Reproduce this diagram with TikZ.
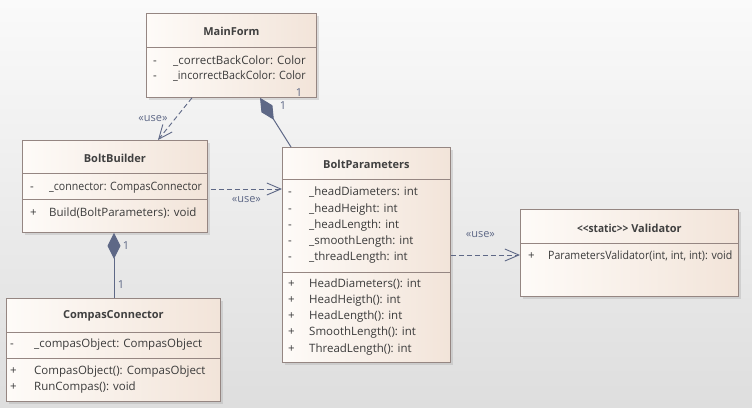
\documentclass[tikz,border=0pt]{standalone}
\usepackage{fontspec}
\setmainfont{Open Sans}
\usetikzlibrary{arrows.meta, positioning, shadows}
\definecolor{boxborder}{HTML}{958682}
\definecolor{boxleft}{HTML}{FEFBF8}
\definecolor{boxright}{HTML}{F2E4D9}
\definecolor{linkslate}{HTML}{5E6886}
\definecolor{textdark}{HTML}{3A3A3A}
\definecolor{bgtop}{HTML}{FAFAFA}
\definecolor{bgbottom}{HTML}{DEDEDE}

\begin{document}
\begin{tikzpicture}[
    x=1pt, y=-1pt,
    every node/.style={text=textdark, inner sep=0pt},
    classbox/.style 2 args={
        draw=boxborder, line width=0.8pt,
        left color=boxleft, right color=boxright,
        minimum width=#1, minimum height=#2,
        anchor=north west,
        drop shadow={shadow xshift=2.5pt, shadow yshift=-2.5pt, fill=black!35, opacity=0.35}
    },
    sepline/.style={draw=boxborder, line width=0.8pt},
    classname/.style={font=\bfseries\fontsize{11}{13}\selectfont, text=black!75},
    member/.style={font=\fontsize{11.5}{14}\selectfont, anchor=west, text height=8pt, text depth=2pt},
    usearr/.style={
        draw=linkslate, line width=0.9pt,
        dash pattern=on 5pt off 3pt,
        -{Straight Barb[length=14pt, width=12pt]}
    },
    comp/.style={
        draw=linkslate, line width=1pt,
        {Diamond[length=26pt, width=13pt, fill=linkslate]}-
    },
    lbl/.style={font=\fontsize{11}{13}\selectfont, text=linkslate}
]

% Background
\useasboundingbox (0,0) rectangle (752,407);
\fill[top color=bgtop, bottom color=bgbottom] (0,0) rectangle (752,407);

% Classes
\node[classbox={170pt}{84pt}] (mainform) at (146,13) {};
\node[classbox={185pt}{92pt}] (builder) at (22,140) {};
\node[classbox={168pt}{215pt}] (params) at (282,147) {};
\node[classbox={218pt}{87pt}] (validator) at (520,209) {};
\node[classbox={214pt}{103pt}] (compas) at (6,298) {};

% Compartments
\draw[sepline] (mainform.west |- 0,47) -- (mainform.east |- 0,47);
\draw[sepline] (builder.west |- 0,173) -- (builder.east |- 0,173);
\draw[sepline] (builder.west |- 0,199) -- (builder.east |- 0,199);
\draw[sepline] (params.west |- 0,179) -- (params.east |- 0,179);
\draw[sepline] (params.west |- 0,272) -- (params.east |- 0,272);
\draw[sepline] (validator.west |- 0,243) -- (validator.east |- 0,243);
\draw[sepline] (compas.west |- 0,332) -- (compas.east |- 0,332);
\draw[sepline] (compas.west |- 0,358) -- (compas.east |- 0,358);

% Class names
\node[classname] (mainformname) at (mainform.north |- 0,31) {MainForm};
\node[classname] (buildername) at (builder.north |- 0,158) {BoltBuilder};
\node[classname] (paramsname) at (params.north |- 0,164) {BoltParameters};
\node[classname] (validatorname) at (validator.north |- 0,228)
    {\scalebox{0.92}[1]{<\kern0pt<static>\kern0pt>} Validator};
\node[classname] (compasname) at (compas.north |- 0,316) {CompasConnector};

% MainForm members
\node[member] (mf1) at (153,61) {\makebox[20pt][l]{-}\_correctBackColor: Color};
\node[member] (mf2) at (153,76) {\makebox[20pt][l]{-}\scalebox{0.93}[1]{\_incorrectBackColor: Color}};

% BoltBuilder members
\node[member] (bb1) at (30,187) {\makebox[19pt][l]{-}\scalebox{0.92}[1]{\_connector: CompasConnector}};
\node[member] (bb2) at (30,213) {\makebox[19pt][l]{+}Build(BoltParameters): void};

% BoltParameters members
\node[member] (bp1) at (288,192) {\makebox[21pt][l]{-}\_headDiameters: int};
\node[member] (bp2) at (288,209) {\makebox[21pt][l]{-}\_headHeight: int};
\node[member] (bp3) at (288,225) {\makebox[21pt][l]{-}\_headLength: int};
\node[member] (bp4) at (288,241) {\makebox[21pt][l]{-}\_smoothLength: int};
\node[member] (bp5) at (288,257) {\makebox[21pt][l]{-}\_threadLength: int};
\node[member] (bp6) at (288,284) {\makebox[21pt][l]{+}HeadDiameters(): int};
\node[member] (bp7) at (288,300) {\makebox[21pt][l]{+}HeadHeigth(): int};
\node[member] (bp8) at (288,316) {\makebox[21pt][l]{+}HeadLength(): int};
\node[member] (bp9) at (288,332) {\makebox[21pt][l]{+}SmoothLength(): int};
\node[member] (bp10) at (288,349) {\makebox[21pt][l]{+}ThreadLength(): int};

% Validator members
\node[member] (va1) at (528,256)
    {\makebox[20pt][l]{+}\scalebox{0.92}[1]{ParametersValidator(int, int, int): void}};

% CompasConnector members
\node[member] (cc1) at (10,344) {\makebox[24pt][l]{-}\_compasObject: CompasObject};
\node[member] (cc2) at (10,371) {\makebox[24pt][l]{+}CompasObject(): CompasObject};
\node[member] (cc3) at (10,387) {\makebox[24pt][l]{+}RunCompas(): void};

% Dependencies
\draw[usearr] (mainform.south -| 192,0) -- (builder.north -| 158,0)
    node[lbl, midway, left=7pt] (use1) {«use»};
\draw[usearr] ([xshift=3pt]builder.east |- 0,189) -- (params.west |- 0,189)
    node[lbl, midway, below=7pt] (use2) {«use»};
\draw[usearr] (params.east |- 0,255) -- (validator.west |- 0,255)
    node[lbl, midway, above=17pt, xshift=-5pt] (use3) {«use»};

% Compositions
\draw[comp] (mainform.south -| 260,0) -- (params.north -| 291,0);
\node[lbl] (mult1) at (283,106) {1};
\node[lbl] (mult2) at (299,93) {1};
\draw[comp] (builder.south -| 114,0) -- (compas.north -| 114,0);
\node[lbl] (mult3) at (126,246) {1};
\node[lbl] (mult4) at (121,285) {1};

\end{tikzpicture}
\end{document}
